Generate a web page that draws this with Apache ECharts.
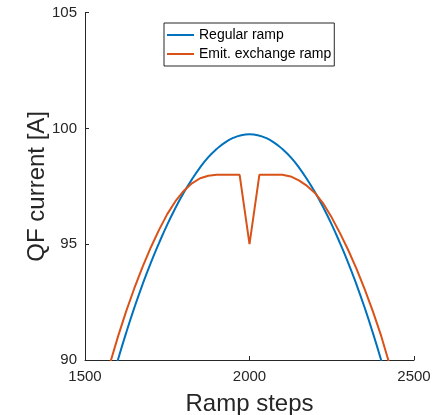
<!DOCTYPE html>
<html>
<head>
<meta charset="utf-8">
<script src="https://cdn.jsdelivr.net/npm/echarts@6/dist/echarts.min.js"></script>
<style>html,body{margin:0;padding:0;background:#fff;}#c{width:443px;height:415px;}</style>
</head>
<body>
<div id="c"></div>
<script>
const seriesNames = ['Regular ramp', 'Emit. exchange ramp'];
const xTicks = [1500, 2000, 2500];
const yTicks = [90, 95, 100, 105];

const regularSteps = [1575,1600,1625,1650,1675,1700,1725,1750,1775,1800,1825,1850,1875,1900,1925,1950,1975,2000,2025,2050,2075,2100,2125,2150,2175,2200,2225,2250,2275,2300,2325,2350,2375,2400,2425];
const regularCurrent = [88.75,90.0,91.17,92.26,93.27,94.2,95.05,95.85,96.57,97.22,97.8,98.32,98.76,99.11,99.39,99.59,99.71,99.75,99.71,99.59,99.39,99.11,98.76,98.32,97.8,97.22,96.57,95.85,95.05,94.2,93.27,92.26,91.17,90.0,88.75];

const exchangeSteps = [1575,1600,1625,1650,1675,1700,1725,1750,1775,1800,1825,1850,1875,1900,1925,1950,1970,2000,2030,2050,2075,2100,2125,2150,2175,2200,2225,2250,2275,2300,2325,2350,2375,2400,2425];
const exchangeCurrent = [89.8,91.0,92.1,93.1,94.02,94.86,95.62,96.3,96.86,97.3,97.63,97.85,97.96,98.0,98.0,98.0,98.0,95.0,98.0,98.0,98.0,98.0,97.93,97.76,97.52,97.2,96.74,96.15,95.48,94.75,93.95,93.06,92.1,91.05,89.85];

const pair = (xs, ys) => xs.map((x, i) => [x, ys[i]]);
const axisColor = '#262626';
const font = 'Liberation Sans, Arial, sans-serif';

const chart = echarts.init(document.getElementById('c'), null, {renderer: 'canvas'});
chart.setOption({
  animation: false,
  backgroundColor: '#fff',
  grid: {left: 85, right: 29, top: 12.7, bottom: 55, containLabel: false, outerBoundsMode: 'none'},
  legend: {
    orient: 'vertical',
    left: 164, top: 23,
    padding: [4, 3, 4, 3],
    icon: 'rect',
    itemWidth: 27, itemHeight: 2, itemGap: 3,
    borderColor: axisColor, borderWidth: 1, backgroundColor: '#fff',
    textStyle: {fontFamily: font, fontSize: 14, color: '#000', lineHeight: 16},
    data: seriesNames
  },
  xAxis: {
    type: 'value', min: xTicks[0], max: xTicks[xTicks.length - 1], interval: 500,
    name: 'Ramp steps', nameLocation: 'middle', nameGap: 32, nameMoveOverlap: false,
    nameTextStyle: {fontFamily: font, fontSize: 24, color: axisColor},
    axisLine: {show: true, lineStyle: {color: axisColor, width: 1}},
    axisTick: {show: true, inside: true, length: 4, lineStyle: {color: axisColor}},
    axisLabel: {fontFamily: font, fontSize: 15, color: axisColor, margin: 9, showMinLabel: true, showMaxLabel: true,
      formatter: v => String(v)},
    splitLine: {show: false}
  },
  yAxis: {
    type: 'value', min: yTicks[0], max: yTicks[yTicks.length - 1], interval: 5,
    name: 'QF current [A]', nameLocation: 'middle', nameGap: 36, nameMoveOverlap: false,
    nameTextStyle: {fontFamily: font, fontSize: 24, color: axisColor},
    axisLine: {show: true, lineStyle: {color: axisColor, width: 1}},
    axisTick: {show: true, inside: true, length: 4, lineStyle: {color: axisColor}},
    axisLabel: {fontFamily: font, fontSize: 15, color: axisColor, margin: 8, formatter: v => String(v)},
    splitLine: {show: false}
  },
  series: [
    {name: seriesNames[0], type: 'line', data: pair(regularSteps, regularCurrent), symbol: 'none', smooth: 0.5, clip: true,
     lineStyle: {color: '#0072BD', width: 2}, itemStyle: {color: '#0072BD'}},
    {name: seriesNames[1], type: 'line', data: pair(exchangeSteps, exchangeCurrent), symbol: 'none', smooth: false, clip: true,
     lineStyle: {color: '#D95319', width: 2}, itemStyle: {color: '#D95319'}}
  ]
});
</script>
</body>
</html>
